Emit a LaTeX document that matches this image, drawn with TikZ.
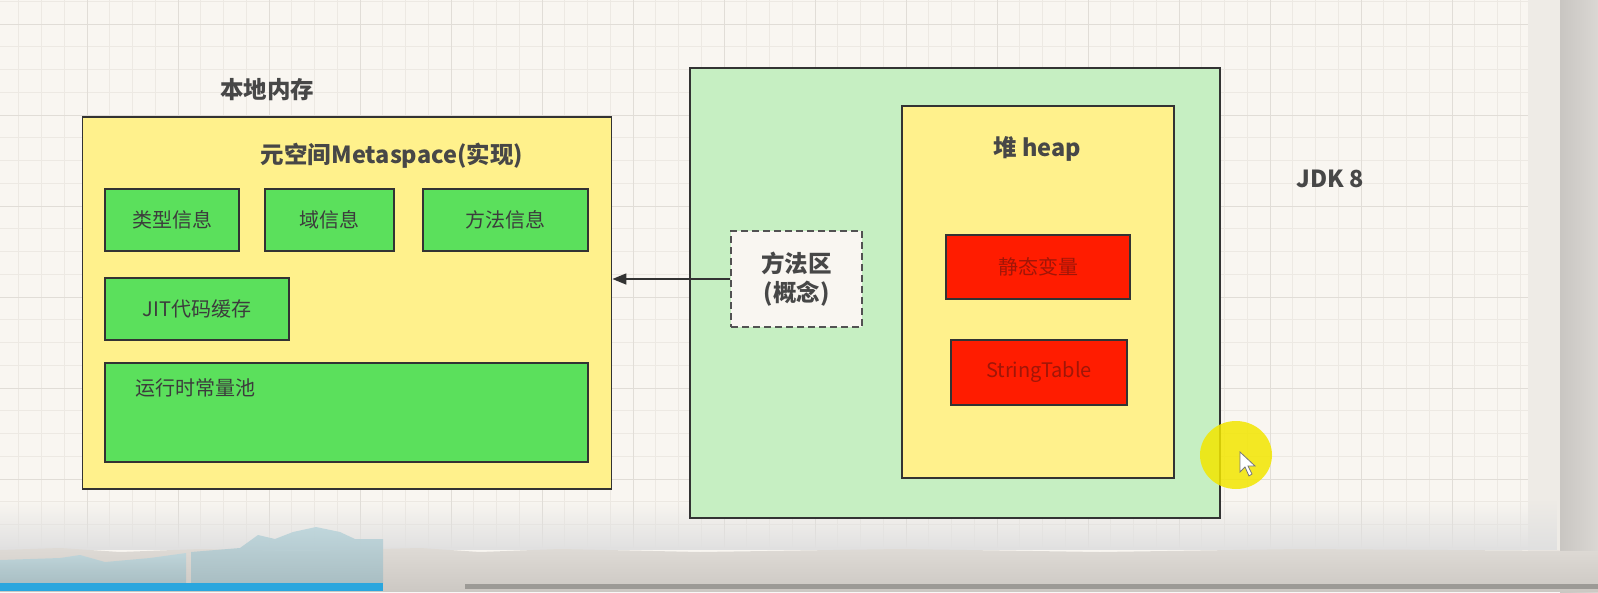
\documentclass[tikz,border=0pt]{standalone}
\usepackage{fontspec}
\setmainfont{Noto Sans CJK SC}
\usetikzlibrary{arrows.meta,fadings}
\definecolor{bg}{HTML}{F9F6F1}
\definecolor{gminor}{HTML}{EDE9E3}
\definecolor{gmajor}{HTML}{E1DDD7}
\definecolor{edge}{HTML}{333333}
\definecolor{yel}{HTML}{FFF18C}
\definecolor{grn}{HTML}{5BE05C}
\definecolor{lgrn}{HTML}{C6EFC2}
\definecolor{red1}{HTML}{FF1C00}
\definecolor{txt}{HTML}{3C3C3C}
\definecolor{rtxt}{HTML}{A01608}
\definecolor{pageedge}{HTML}{EEEBE6}
\definecolor{waveA}{HTML}{BCD5DB}
\definecolor{waveB}{HTML}{A5BDC3}
\definecolor{prog}{HTML}{2AA6DE}
\definecolor{progbg}{HTML}{9C9A96}
\definecolor{hilite}{HTML}{F2E600}
\definecolor{curedge}{HTML}{777777}
\definecolor{deskA}{HTML}{C9C6C2}
\definecolor{deskB}{HTML}{DAD7D3}
\definecolor{bandA}{HTML}{DEDAD5}
\definecolor{bandB}{HTML}{CCC8C3}
\tikzset{
  boxbase/.style={draw=edge, line width=1.8pt, inner sep=0pt},
  ybox/.style={boxbase, fill=yel},
  gbox/.style={boxbase, fill=grn},
  lgbox/.style={boxbase, fill=lgrn},
  rbox/.style={boxbase, fill=red1},
  dbox/.style={draw=edge!85, line width=2pt, dash pattern=on 7pt off 4pt, fill=bg, inner sep=0pt},
  title/.style={font=\fontsize{23.5}{28.5}\selectfont\bfseries, text=edge!90},
  lbl/.style={font=\fontsize{20}{24}\selectfont, text=txt},
  rlbl/.style={font=\fontsize{20}{24}\selectfont, text=rtxt},
}
\begin{document}
\begin{tikzpicture}[x=1pt,y=-1pt]
\useasboundingbox (0,0) rectangle (1598,592);
\fill[bg] (0,0) rectangle (1598,592);
% grid
\begin{scope}
\clip (0,0) rectangle (1528,548);
\foreach \i in {-4,...,64} {\draw[gminor, line width=0.8pt] ({87+22.75*\i},0) -- ++(0,548);}
\foreach \i in {-6,...,19} {\draw[gminor, line width=0.8pt] (0,{115+22.75*\i}) -- ++(1528,0);}
\foreach \i in {-4,0,...,64} {\draw[gmajor, line width=1pt] ({87+22.75*\i},0) -- ++(0,548);}
\foreach \i in {-8,-4,...,19} {\draw[gmajor, line width=1pt] (0,{115+22.75*\i}) -- ++(1528,0);}
\end{scope}
% right page edge
\fill[pageedge] (1528,0) rectangle (1560,582);
\shade[left color=deskA, right color=deskB] (1560,0) rectangle (1598,592);
% bottom band
\fill[black!12, path fading=north] (0,500) rectangle (1560,550);
\shade[top color=bandA, bottom color=bandB] (0,550) -- (60,548) -- (120,552) -- (200,549) -- (300,551) -- (420,548) -- (480,552) -- (560,549) -- (700,552) -- (900,549) -- (1100,552) -- (1300,549) -- (1598,551) -- (1598,592) -- (0,592) -- cycle;
\shade[top color=waveA, bottom color=waveB, opacity=0.9] (0,583) -- (0,560) -- (60,558) -- (80,555) -- (105,562) -- (150,558) -- (186,553) -- (186,583) -- cycle;
\shade[top color=waveA, bottom color=waveB, opacity=0.9] (191,583) -- (191,552) -- (240,548) -- (258,535) -- (275,539) -- (293,532) -- (316,527) -- (340,532) -- (355,539) -- (383,539) -- (383,583) -- cycle;
\fill[prog] (0,583) rectangle (383,591);
\fill[progbg] (465,583.5) rectangle (1598,588.5);

% left: native memory
\node[title] (nativelbl) at (267,90) {本地内存};
\node[ybox, minimum width=529pt, minimum height=372pt] (meta) at (347,303) {};
\node[title] (metalbl) at (392,156) {元空间Metaspace(实现)};
\node[gbox, minimum width=134pt, minimum height=62pt] (type) at (172,220) {};
\node[lbl] (typelbl) at (type.center) {类型信息};
\node[gbox, minimum width=129pt, minimum height=62pt] (field) at (329.5,220) {};
\node[lbl] (fieldlbl) at (field.center) {域信息};
\node[gbox, minimum width=165pt, minimum height=62pt] (method) at (505.5,220) {};
\node[lbl] (methodlbl) at (method.center) {方法信息};
\node[gbox, minimum width=184pt, minimum height=62pt] (jit) at (197,309) {};
\node[lbl] (jitlbl) at (jit.center) {JIT代码缓存};
\node[gbox, minimum width=483pt, minimum height=99pt] (pool) at (346.5,412.5) {};
\node[lbl, anchor=west] (poollbl) at (132,388) {运行时常量池};

% right: JVM
\node[lgbox, minimum width=530pt, minimum height=450pt] (jvm) at (955,293) {};
\node[dbox, minimum width=131pt, minimum height=96pt] (mz) at (796.5,279) {};
\node[title, align=center] (mzlbl) at (mz.center) {方法区\\(概念)};
\node[ybox, minimum width=272pt, minimum height=372pt] (heap) at (1038,292) {};
\node[title] (heaplbl) at (1037,149) {堆 heap};
\node[rbox, minimum width=184pt, minimum height=64pt] (static) at (1038,267) {};
\node[rlbl] (staticlbl) at (static.center) {静态变量};
\node[rbox, minimum width=176pt, minimum height=65pt] (st) at (1039,372.5) {};
\node[rlbl] (stlbl) at (st.center) {StringTable};
\node[title] (jdk) at (1330,179) {JDK 8};

\draw[edge, line width=1.6pt, -{Triangle[length=14pt,width=11pt]}] (mz.west) -- (meta.east |- mz.west);

% cursor highlight
\fill[hilite, opacity=0.85] (1236,455) ellipse (36pt and 34pt);
\draw[curedge, fill=white, line width=0.8pt] (1240,452) -- (1240,472) -- (1245,467) -- (1249,476) -- (1252,474) -- (1248,466) -- (1255,466) -- cycle;
\end{tikzpicture}
\end{document}
